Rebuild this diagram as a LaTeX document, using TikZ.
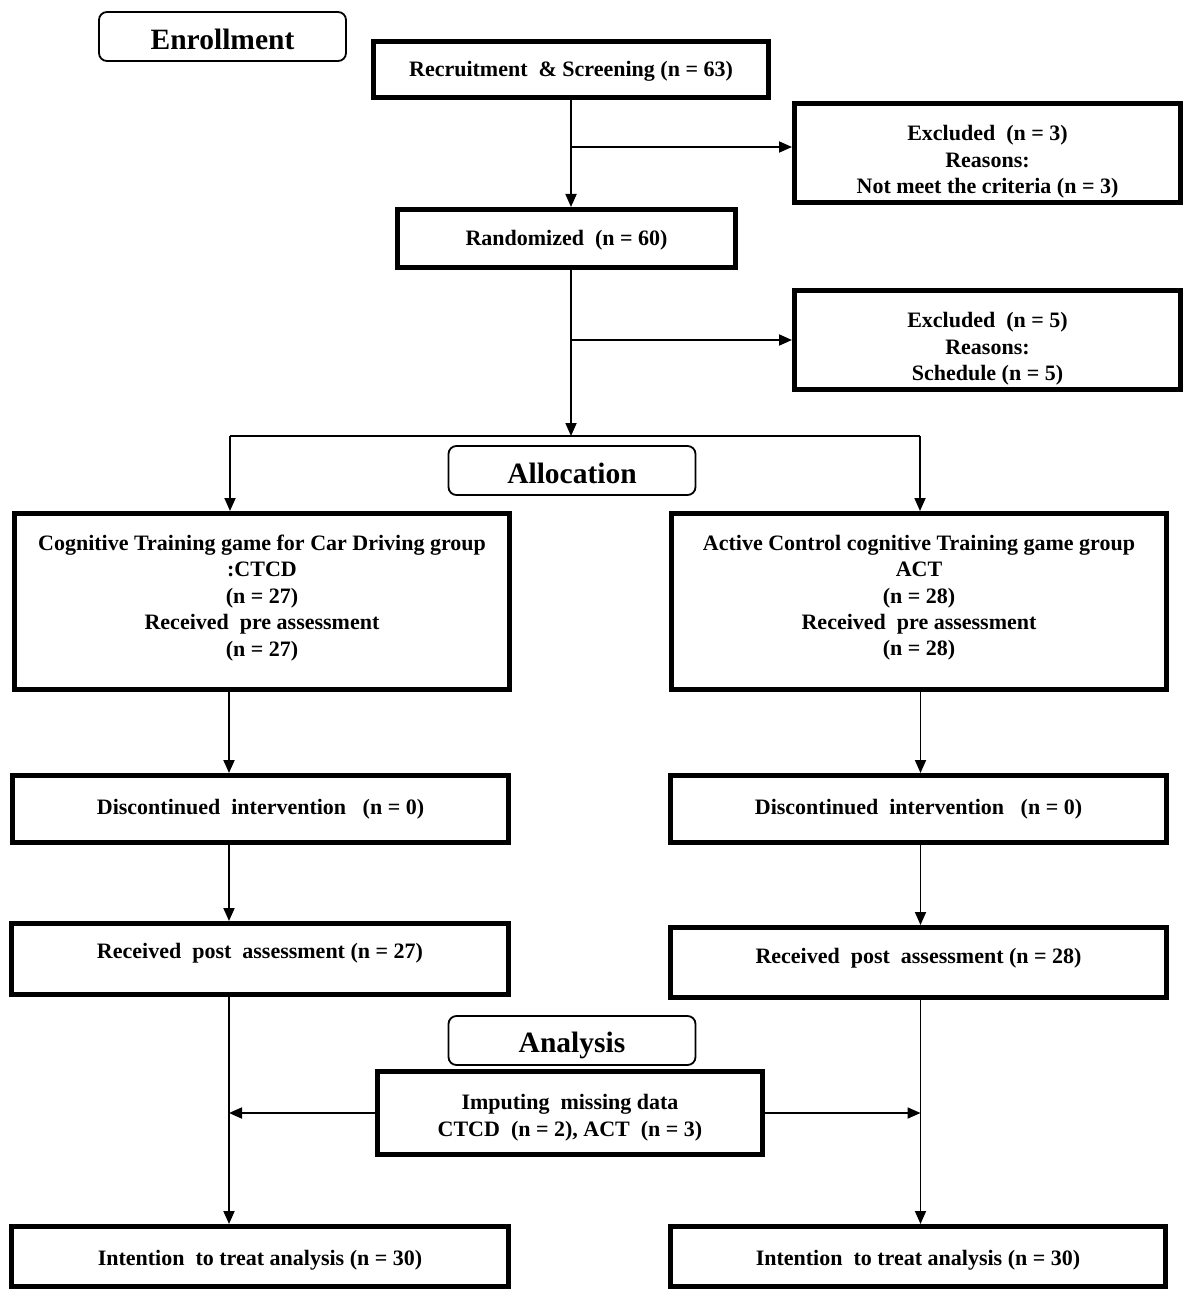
\documentclass[tikz,border=0pt]{standalone}
\usepackage{fontspec}
\setmainfont{Liberation Serif}
\usetikzlibrary{arrows.meta}
\newcommand{\topsp}[1]{\rule{0pt}{#1}}
\newcommand{\botsp}[1]{\rule[-#1]{0pt}{0pt}}
\begin{document}
\begin{tikzpicture}[x=1pt,y=-1pt,
  box/.style={draw, line width=5pt, inner sep=0pt, align=center,
    font=\bfseries\fontsize{22}{26.4}\selectfont},
  hdr/.style={draw, line width=1.8pt, rounded corners=8pt, inner sep=0pt,
    minimum width=247pt, minimum height=49pt,
    font=\bfseries\fontsize{29.5}{32}\selectfont},
  conn/.style={line width=1.8pt},
  arr/.style={conn, -{Triangle[length=13pt,width=11pt]}}]
\useasboundingbox (0,0) rectangle (1197,1300);
\fill[white] (0,0) rectangle (1197,1300);

\node[hdr] (enr) at (222.5,36.5) {\topsp{26pt}Enrollment};
\node[box, minimum width=395pt, minimum height=56pt] (rec) at (571,69.5) {\topsp{19pt}Recruitment\ \ \& Screening (n = 63)};
\node[box, minimum width=386pt, minimum height=99pt] (exc1) at (987.5,153) {\topsp{33pt}Excluded\ \ (n = 3)\\Reasons:\\Not meet the criteria (n = 3)};
\node[box, minimum width=338pt, minimum height=58pt] (rand) at (566.5,238.5) {\topsp{19pt}Randomized\ \ (n = 60)};
\node[box, minimum width=386pt, minimum height=99pt] (exc2) at (987.5,340) {\topsp{33pt}Excluded\ \ (n = 5)\\Reasons:\\Schedule (n = 5)};
\node[hdr] (alloc) at (572,470.5) {\topsp{27pt}Allocation};
\node[box, minimum width=495pt, minimum height=176pt] (lg) at (262,601.5) {Cognitive\ Training game for Car Driving group\\:CTCD\\(n = 27)\\Received\ \ pre assessment\\(n = 27)\botsp{12pt}};
\node[box, minimum width=495pt, minimum height=176pt] (rg) at (919,601.5) {Active Control cognitive Training game group\\ACT\\(n = 28)\\Received\ \ pre assessment\\(n = 28)\botsp{12pt}};
\node[box, minimum width=496pt, minimum height=67pt] (dl) at (260.5,809) {Discontinued\ \ intervention\ \ \ (n = 0)};
\node[box, minimum width=496pt, minimum height=67pt] (dr) at (918.5,809) {Discontinued\ \ intervention\ \ \ (n = 0)};
\node[box, minimum width=497pt, minimum height=71pt] (pl) at (260,959) {Received\ \ post\ \ assessment (n = 27)\botsp{16pt}};
\node[box, minimum width=496pt, minimum height=70pt] (pr) at (918.5,962.5) {Received\ \ post\ \ assessment (n = 28)\botsp{14pt}};
\node[hdr] (ana) at (572,1040.5) {\topsp{30pt}Analysis};
\node[box, minimum width=385pt, minimum height=83pt] (imp) at (570,1113) {\topsp{25pt}Imputing\ \ missing data\\CTCD\ \ (n = 2), ACT\ \ (n = 3)};
\node[box, minimum width=497pt, minimum height=60pt] (il) at (260,1256.5) {\topsp{23pt}Intention\ \ to treat analysis (n = 30)};
\node[box, minimum width=495pt, minimum height=60pt] (ir) at (918,1256.5) {\topsp{23pt}Intention\ \ to treat analysis (n = 30)};

\coordinate (b1) at (571,147);
\coordinate (b2) at (571,340);
\coordinate (sp) at (571,436);
\coordinate (hl) at (230,436);
\coordinate (hr) at (920,436);
\coordinate (cl) at (229,0);
\coordinate (cr) at (920.5,0);

\draw[arr] (rec.south -| b1) -- (rand.north -| b1);
\draw[arr] (b1) -- (b1 -| exc1.west);
\draw[arr] (rand.south -| sp) -- (sp);
\draw[arr] (b2) -- (b2 -| exc2.west);
\draw[conn] (hl) -- (hr);
\draw[arr] (hl) -- (hl |- lg.north);
\draw[arr] (hr) -- (hr |- rg.north);

\draw[arr] (cl |- lg.south) -- (cl |- dl.north);
\draw[arr] (cl |- dl.south) -- (cl |- pl.north);
\draw[arr] (cl |- pl.south) -- (cl |- il.north);
\draw[arr] (cr |- rg.south) -- (cr |- dr.north);
\draw[arr] (cr |- dr.south) -- (cr |- pr.north);
\draw[arr] (cr |- pr.south) -- (cr |- ir.north);
\draw[arr] (imp.west) -- (imp.west -| cl);
\draw[arr] (imp.east) -- (imp.east -| cr);
\end{tikzpicture}
\end{document}
